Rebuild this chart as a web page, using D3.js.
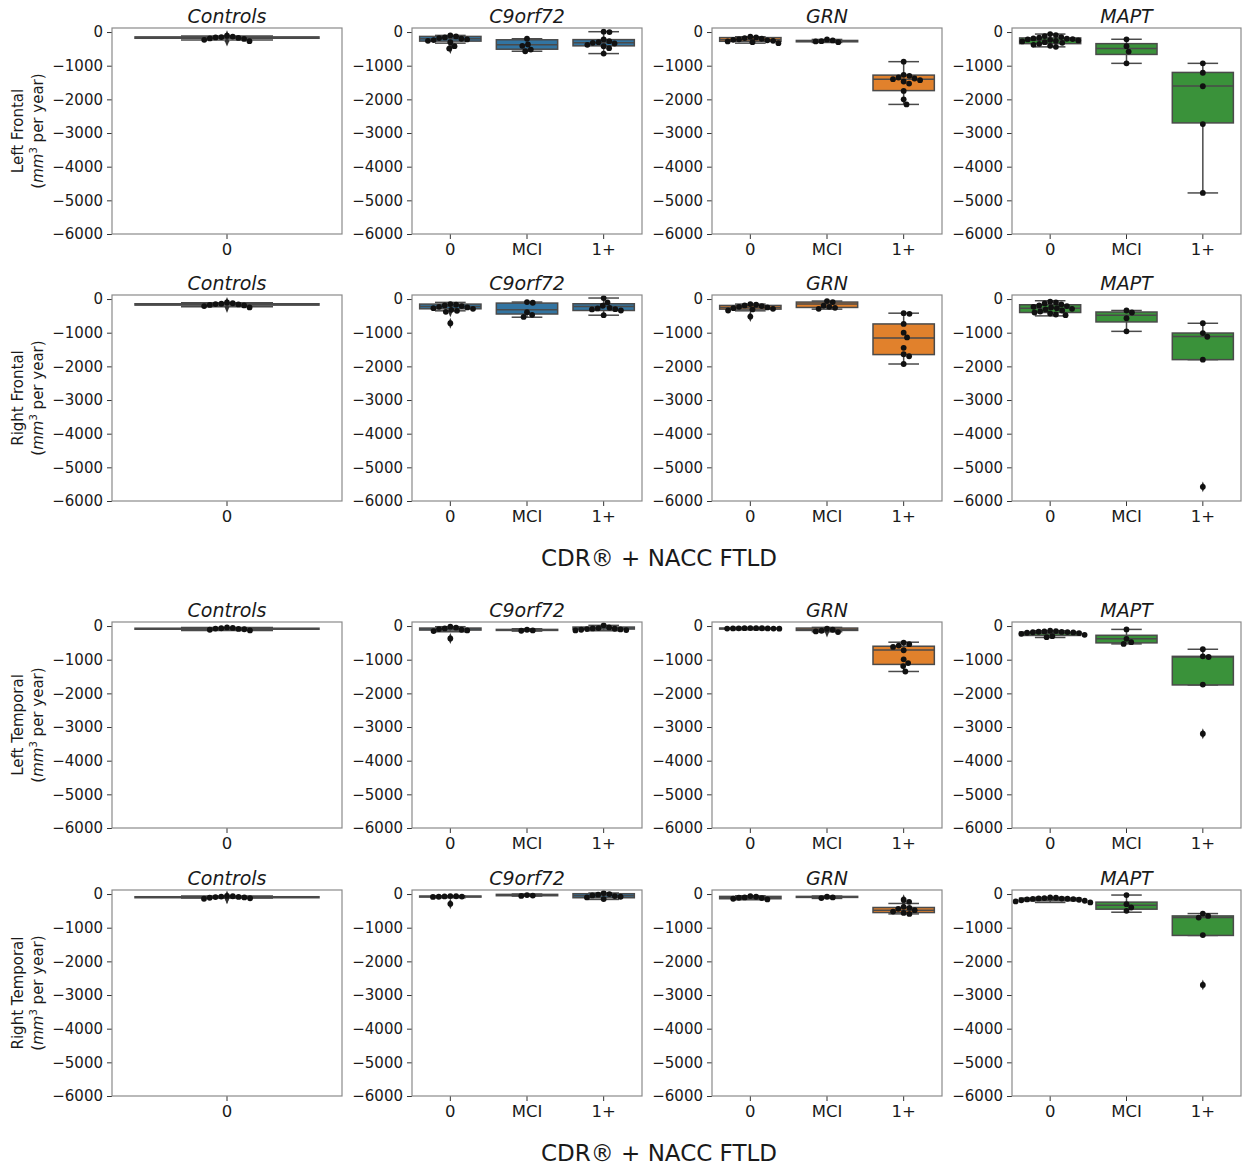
<!DOCTYPE html>
<html lang="en">
<head>
<meta charset="UTF-8">
<title>Regional atrophy rates by CDR + NACC FTLD</title>
<script src="https://d3js.org/d3.v7.min.js"></script>
<style>
  body { margin: 0; background: #fff; }
  svg { display: block; font-family: "DejaVu Sans", sans-serif; }
  .tick text { font-size: 16.5px; fill: #1a1a1a; font-family: "DejaVu Sans", sans-serif; }
  .yaxis .tick text { font-size: 15px; }
  .tick line { stroke: #333; }
  .title { font-size: 19px; font-style: italic; fill: #1a1a1a; }
  .ylab { font-size: 15px; fill: #1a1a1a; }
  .suplab { font-size: 23px; fill: #1a1a1a; }
</style>
</head>
<body>
<svg width="1243" height="1168"></svg>
<script>
  const regions = ["Left Frontal", "Right Frontal", "Left Temporal", "Right Temporal"];
  const groups = ["Controls", "C9orf72", "GRN", "MAPT"];
  const stages = ["0", "MCI", "1+"];
  const groupColors = ["#7f7f7f", "#3274a1", "#e1812c", "#3a923a"];
  const yTicks = [0, -1000, -2000, -3000, -4000, -5000, -6000];

  // box stats per group and stage: [low whisker, q1, median, q3, high whisker]
  const leftFrontalBoxes = [
    [[-240, -185, -165, -145, -120]],
    [[-330, -270, -200, -130, -100], [-570, -510, -380, -230, -200], [-640, -410, -320, -225, 10]],
    [[-330, -275, -230, -165, -140], [-310, -290, -270, -250, -220], [-2150, -1740, -1400, -1280, -880]],
    [[-440, -345, -245, -175, -60], [-930, -665, -490, -345, -215], [-4780, -2700, -1600, -1200, -930]]
  ];
  const leftFrontalPoints = [
    [[-110, -135, -150, -160, -175, -190, -205, -230, -270]],
    [[-100, -130, -160, -180, -200, -220, -240, -260, -300, -420, -490],
     [-200, -370, -410, -520, -570],
     [10, 0, -220, -270, -300, -320, -340, -380, -420, -480, -640]],
    [[-140, -160, -180, -200, -215, -230, -245, -260, -280, -300, -330],
     [-220, -250, -270, -280, -300],
     [-880, -1270, -1300, -1350, -1380, -1400, -1430, -1470, -1530, -1750, -2000, -2150]],
    [[-60, -90, -120, -150, -170, -190, -200, -210, -220, -235, -250, -265, -280, -300, -320, -350, -380, -410, -440],
     [-215, -420, -580, -930],
     [-930, -1210, -1610, -2735, -4780]]
  ];

  const rightFrontalBoxes = [
    [[-230, -180, -160, -140, -110]],
    [[-350, -290, -220, -150, -100], [-540, -445, -320, -120, -90], [-480, -340, -220, -140, 30]],
    [[-350, -300, -250, -190, -150], [-300, -250, -150, -90, -60], [-1930, -1650, -1160, -740, -420]],
    [[-500, -400, -270, -170, -50], [-960, -680, -485, -385, -340], [-1800, -1800, -1110, -1010, -720]]
  ];
  const rightFrontalPoints = [
    [[-100, -125, -140, -150, -160, -175, -190, -210, -250]],
    [[-150, -170, -190, -210, -230, -250, -270, -290, -320, -350, -380, -720],
     [-90, -110, -390, -470, -530],
     [30, -100, -200, -260, -280, -300, -310, -340, -480]],
    [[-150, -170, -190, -210, -230, -250, -270, -290, -310, -340, -520],
     [-60, -90, -200, -230, -260, -290],
     [-420, -440, -740, -1000, -1140, -1450, -1640, -1700, -1930]],
    [[-80, -100, -130, -160, -190, -210, -230, -250, -270, -290, -310, -340, -370, -400, -430, -460, -480],
     [-340, -400, -570, -960],
     [-720, -1010, -1120, -1800, -5580]]
  ];

  const leftTemporalBoxes = [
    [[-130, -95, -80, -65, -40]],
    [[-170, -120, -90, -60, -20], [-150, -130, -110, -100, -80], [-140, -90, -60, -30, 20]],
    [[-110, -90, -70, -60, -40], [-170, -130, -100, -60, -40], [-1350, -1140, -710, -600, -480]],
    [[-340, -280, -220, -180, -140], [-530, -500, -380, -275, -100], [-1750, -1750, -920, -900, -690]]
  ];
  const leftTemporalPoints = [
    [[-40, -55, -65, -75, -85, -95, -110, -130]],
    [[-20, -50, -70, -90, -110, -130, -150, -370],
     [-110, -130, -140],
     [20, -40, -60, -70, -80, -90, -100, -110, -120, -130]],
    [[-60, -62, -64, -66, -68, -70, -72, -74, -76, -78],
     [-80, -110, -140, -160, -180],
     [-490, -540, -580, -620, -720, -990, -1100, -1190, -1350]],
    [[-140, -150, -160, -170, -175, -180, -185, -190, -200, -210, -230, -260, -300, -330],
     [-100, -380, -480, -530],
     [-690, -900, -920, -1740, -3200]]
  ];

  const rightTemporalBoxes = [
    [[-120, -100, -90, -80, -60]],
    [[-110, -90, -70, -60, -50], [-60, -50, -30, -10, 0], [-160, -110, -50, 10, 30]],
    [[-170, -140, -110, -70, -50], [-130, -100, -80, -70, -60], [-590, -550, -480, -400, -280]],
    [[-250, -200, -160, -120, -100], [-540, -450, -330, -240, -30], [-1230, -1230, -700, -650, -580]]
  ];
  const rightTemporalPoints = [
    [[-55, -65, -75, -85, -90, -100, -110, -125, -140]],
    [[-60, -65, -70, -75, -80, -85, -290],
     [-30, -45, -55],
     [30, 0, -20, -40, -60, -80, -100, -150]],
    [[-60, -80, -100, -110, -120, -140, -160],
     [-80, -100, -120],
     [-170, -230, -380, -410, -440, -480, -520, -560, -590]],
    [[-100, -110, -120, -130, -135, -140, -145, -150, -160, -170, -185, -200, -220, -250],
     [-30, -300, -400, -500],
     [-580, -650, -700, -1220, -2700]]
  ];

  const allBoxes = [leftFrontalBoxes, rightFrontalBoxes, leftTemporalBoxes, rightTemporalBoxes];
  const allPoints = [leftFrontalPoints, rightFrontalPoints, leftTemporalPoints, rightTemporalPoints];

  // layout
  const colLeft = [112, 412, 712, 1012];
  const panelWidth = [230, 230, 230, 229];
  const rowTop = [28, 295, 622, 890];
  const panelHeight = 206;
  const edge = "#4a4a4a";
  const r = 2.9;

  const svg = d3.select("svg");

  // simple beeswarm: place each point as close to the centre as possible
  function swarm(values, y) {
    const placed = [];
    values.map(v => ({ v, py: y(v) }))
      .sort((a, b) => a.py - b.py)
      .forEach(p => {
        const cands = [0];
        placed.forEach(q => {
          const dy = p.py - q.py;
          if (Math.abs(dy) < 2 * r) {
            const dx = Math.sqrt(4 * r * r - dy * dy);
            cands.push(q.dx + dx, q.dx - dx);
          }
        });
        cands.sort((a, b) => Math.abs(a) - Math.abs(b));
        p.dx = cands.find(c => placed.every(q => (c - q.dx) ** 2 + (p.py - q.py) ** 2 >= 4 * r * r - 0.01));
        placed.push(p);
      });
    return placed;
  }

  regions.forEach((region, ri) => {
    groups.forEach((group, gi) => {
      const left = colLeft[gi], top = rowTop[ri];
      const w = panelWidth[gi];
      const cats = gi === 0 ? ["0"] : stages;

      const x = d3.scaleBand().domain(cats).range([left, left + w]).padding(0);
      const y = d3.scaleLinear().domain([-6000, 120]).range([top + panelHeight, top]);

      const g = svg.append("g");

      g.append("g")
        .attr("class", "yaxis")
        .attr("transform", `translate(${left},0)`)
        .call(d3.axisLeft(y).tickValues(yTicks).tickFormat(d3.format("d")).tickSize(5).tickPadding(4))
        .call(a => a.select(".domain").remove());

      g.append("g")
        .attr("transform", `translate(0,${top + panelHeight})`)
        .call(d3.axisBottom(x).tickSize(5).tickPadding(4))
        .call(a => a.select(".domain").remove());

      const bw = x.bandwidth() * 0.8;
      const color = groupColors[gi];

      cats.forEach((c, si) => {
        const [lo, q1, med, q3, hi] = allBoxes[ri][gi][si];
        const cx = x(c) + x.bandwidth() / 2;
        const bg = g.append("g");

        // whiskers
        bg.append("line").attr("x1", cx).attr("x2", cx).attr("y1", y(q3)).attr("y2", y(hi))
          .attr("stroke", edge).attr("stroke-width", 1.5);
        bg.append("line").attr("x1", cx).attr("x2", cx).attr("y1", y(q1)).attr("y2", y(lo))
          .attr("stroke", edge).attr("stroke-width", 1.5);
        [lo, hi].forEach(v => {
          bg.append("line").attr("x1", cx - bw / 4).attr("x2", cx + bw / 4)
            .attr("y1", y(v)).attr("y2", y(v))
            .attr("stroke", edge).attr("stroke-width", 1.5);
        });

        // box
        bg.append("rect")
          .attr("x", cx - bw / 2).attr("width", bw)
          .attr("y", y(q3)).attr("height", Math.max(y(q1) - y(q3), 1))
          .attr("fill", color).attr("stroke", edge).attr("stroke-width", 1.5);
        bg.append("line").attr("x1", cx - bw / 2).attr("x2", cx + bw / 2)
          .attr("y1", y(med)).attr("y2", y(med))
          .attr("stroke", edge).attr("stroke-width", 1.5);

        const pts = allPoints[ri][gi][si];

        // fliers from the boxplot
        bg.selectAll(".flier")
          .data(pts.filter(v => v < lo || v > hi))
          .enter().append("path")
          .attr("class", "flier")
          .attr("d", d3.symbol(d3.symbolDiamond).size(34))
          .attr("transform", v => `translate(${cx},${y(v)}) scale(0.7,1)`)
          .attr("fill", "#333");

        // swarm
        bg.selectAll(".dot")
          .data(swarm(pts, y))
          .enter().append("circle")
          .attr("class", "dot")
          .attr("cx", d => cx + d.dx)
          .attr("cy", d => d.py)
          .attr("r", r)
          .attr("fill", "#111");
      });

      // frame
      g.append("rect")
        .attr("x", left).attr("y", top)
        .attr("width", w).attr("height", panelHeight)
        .attr("fill", "none").attr("stroke", "#8a8a8a").attr("stroke-width", 1.2);

      g.append("text")
        .attr("class", "title")
        .attr("x", left + w / 2).attr("y", top - 5)
        .attr("text-anchor", "middle")
        .text(group);
    });

    // y label, two lines
    const cy = rowTop[ri] + panelHeight / 2;
    svg.append("text")
      .attr("class", "ylab")
      .attr("text-anchor", "middle")
      .attr("transform", `translate(23,${cy}) rotate(-90)`)
      .text(region);
    const l2 = svg.append("text")
      .attr("class", "ylab")
      .attr("text-anchor", "middle")
      .attr("transform", `translate(43,${cy}) rotate(-90)`);
    l2.append("tspan").text("(");
    l2.append("tspan").attr("font-style", "italic").text("mm");
    l2.append("tspan").attr("font-size", "10px").attr("dy", -6).text("3");
    l2.append("tspan").attr("dy", 6).text(" per year)");
  });

  // shared x labels
  [566, 1161].forEach(yy => {
    svg.append("text")
      .attr("class", "suplab")
      .attr("x", 659).attr("y", yy)
      .attr("text-anchor", "middle")
      .text("CDR® + NACC FTLD");
  });
</script>
</body>
</html>
